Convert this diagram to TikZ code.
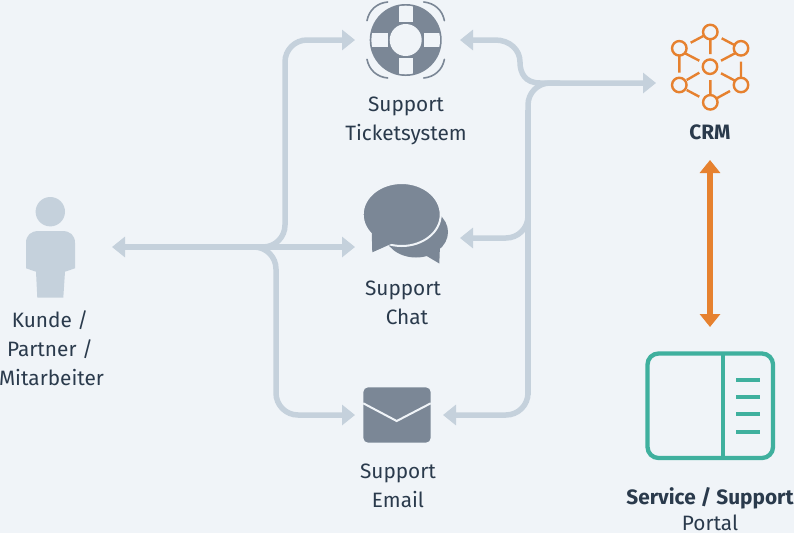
\documentclass[tikz,border=0pt]{standalone}
\usepackage{fontspec}
\setmainfont{Fira Sans}
\usetikzlibrary{arrows.meta}
\definecolor{pagebg}{HTML}{F0F4F8}
\definecolor{flow}{HTML}{C5D1DC}
\definecolor{icon}{HTML}{7B8796}
\definecolor{ink}{HTML}{2A3A4C}
\definecolor{crmor}{HTML}{E6812F}
\definecolor{teal}{HTML}{3FB09E}
\tikzset{
  x=1pt,y=-1pt,
  flowline/.style={draw=flow,line width=5.5pt,rounded corners=22pt},
  flowarrow/.style={flowline,-{Triangle[length=13pt,width=20pt]}},
  label/.style={text=ink,font=\fontsize{20.8}{24}\selectfont,anchor=base,inner sep=0pt},
  boldlabel/.style={label,font=\fontsize{20.8}{24}\selectfont\bfseries},
  crmline/.style={draw=crmor,line width=2.4pt},
  crmnode/.style={circle,draw=crmor,line width=2.4pt,minimum size=14.5pt,inner sep=0pt},
  tealline/.style={draw=teal,line width=4.3pt},
}
\begin{document}
\begin{tikzpicture}
\useasboundingbox (0,0) rectangle (794,533);
\fill[pagebg] (0,0) rectangle (794,533);

% named ends of the connectors
\coordinate (userport) at (112,247);
\coordinate (hubleft) at (240,247);
\coordinate (ticketin) at (355,40);
\coordinate (chatin) at (355,247);
\coordinate (mailin) at (355,415);
\coordinate (ticketout) at (460,40);
\coordinate (chatout) at (460,238);
\coordinate (mailout) at (443,415);
\coordinate (crmin) at (656,83);
\coordinate (crmtop) at (710,160);
\coordinate (crmbottom) at (710,327);

% connectors on the user side
\draw[flowarrow] (hubleft) -| (285,150) |- (ticketin);
\draw[flowarrow] (hubleft) -| (276,330) |- (mailin);
\draw[flowarrow] (hubleft) -- (chatin);
\draw[flowarrow] (hubleft) -- (userport);

% connectors on the CRM side
\draw[flowarrow] (528,150) |- (crmin);
\draw[flowarrow] (528,330) |- (mailout);
\draw[flowarrow] (528,180) |- (chatout);
\draw[flowline] (528,110) -- (528,395);
\draw[draw=flow,line width=5.5pt,-{Triangle[length=13pt,width=20pt]}]
  (560,83) -- (540,83) .. controls (525,83) and (520,73) .. (520,62)
  .. controls (520,50) and (510,40) .. (495,40) -- (ticketout);

% two-headed CRM link
\draw[draw=crmor,line width=6pt,{Triangle[length=13pt,width=20pt]}-{Triangle[length=13pt,width=20pt]}] (crmtop) -- (crmbottom);

% person
\fill[flow] (50.3,211.7) circle[radius=14.7];
\fill[flow] (26,268.3) -- (26,243) .. controls (26,235) and (31,231) .. (39,231)
  -- (62,231) .. controls (70,231) and (75,235) .. (75,243) -- (75,268.3)
  -- (65,271.7) -- (63.3,297.7) -- (37.3,297.7) -- (36,271.7) -- cycle;
\node[label] (user1) at (50,327) {Kunde /};
\node[label] (user2) at (50,356) {Partner /};
\node[label] (user3) at (51.5,385) {Mitarbeiter};

% lifebuoy
\fill[icon] (405.7,40) circle[radius=36];
\fill[pagebg] (405.7,40) circle[radius=16];
\begin{scope}
  \clip (405.7,40) circle[radius=34.3];
  \fill[pagebg] (398.7,0) rectangle (412.7,22);
  \fill[pagebg] (398.7,58) rectangle (412.7,80);
  \fill[pagebg] (360,33) rectangle (387.7,47);
  \fill[pagebg] (423.7,33) rectangle (450,47);
\end{scope}
\draw[icon,line width=1.6pt,line cap=round]
  (367,20.7) .. controls (369,10) and (377,3) .. (387.7,2)
  (444.4,20.7) .. controls (442.4,10) and (434.4,3) .. (423.7,2)
  (367,59.3) .. controls (369,70) and (377,77) .. (387.7,78)
  (444.4,59.3) .. controls (442.4,70) and (434.4,77) .. (423.7,78);
\node[label] (ticket1) at (406,111) {Support};
\node[label] (ticket2) at (406,140) {Ticketsystem};

% chat bubbles
\fill[icon] (416,232) ellipse[x radius=32,y radius=25.5];
\fill[icon] (425,255) -- (439.3,263.5) -- (440,245) -- cycle;
\draw[pagebg,line width=2pt,fill=icon] (401.7,214.5) ellipse[x radius=39,y radius=31.5];
\fill[icon] (371.7,231) -- (372.3,252.3) -- (392,243.5) -- cycle;
\node[label] (chat1) at (403,295) {Support};
\node[label] (chat2) at (407,324) {Chat};

% envelope
\fill[icon,rounded corners=5pt] (363.3,387.3) rectangle (430.7,442.7);
\draw[pagebg,line width=2pt] (363.3,403.3) -- (396.7,421) -- (430.7,403.3);
\node[label] (mail1) at (398,478) {Support};
\node[label] (mail2) at (398,507) {Email};

% CRM network
\node[crmnode] (n0) at (710,66.7) {};
\node[crmnode] (n1) at (710.3,32) {};
\node[crmnode] (n2) at (741,48.3) {};
\node[crmnode] (n3) at (741,85) {};
\node[crmnode] (n4) at (710.3,102.3) {};
\node[crmnode] (n5) at (679.3,85) {};
\node[crmnode] (n6) at (679.3,48.3) {};
\draw[crmline]
  (690.7,42.7) -- (703.3,36)
  (721.7,38.3) -- (735.7,45.7)
  (679.3,55.7) -- (679.3,72.7)
  (741,61.7) -- (741,78.3)
  (686.7,90) -- (699.3,96.7)
  (716.7,98.3) -- (730,91)
  (710.3,39.3) -- (710.3,54)
  (710.3,80) -- (710.3,95)
  (685,53.3) -- (699.3,60.7)
  (735,53.3) -- (721,60.7)
  (686.7,80) -- (699.3,72.7)
  (721,73.3) -- (735,80.7);
\node[boldlabel] (crmtext) at (710,139) {CRM};

% portal window
\draw[tealline,rounded corners=11pt] (647.5,353.5) rectangle (773,458);
\draw[tealline] (723.3,353.5) -- (723.3,458);
\draw[draw=teal,line width=4pt]
  (736,379.7) -- (760,379.7)
  (736,397) -- (760,397)
  (736,414.3) -- (760,414.3)
  (736,431.7) -- (760,431.7);
\node[boldlabel] (portal1) at (710,504) {Service / Support};
\node[label] (portal2) at (710,530.5) {Portal};
\end{tikzpicture}
\end{document}
